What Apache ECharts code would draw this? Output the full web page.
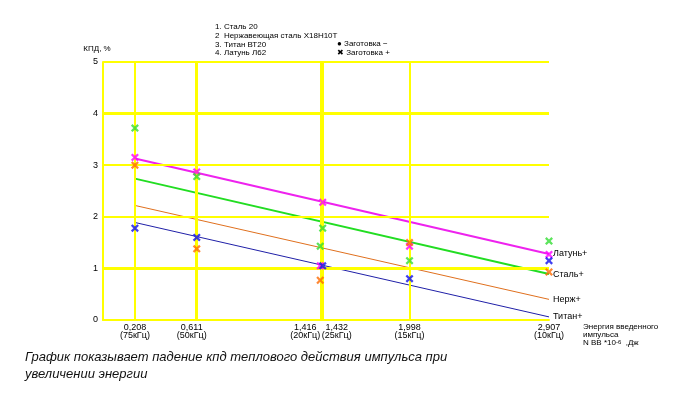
<!DOCTYPE html>
<html><head><meta charset="utf-8">
<script src="https://cdn.jsdelivr.net/npm/echarts@6/dist/echarts.min.js"></script>
<style>html,body{margin:0;padding:0;background:#fff}#c{width:688px;height:394px}</style>
</head><body><div id="c"></div>
<script>
// Energy values (x) and their frequency notes
const xValues = [0.208, 0.611, 1.416, 1.432, 1.998, 2.907];
const xTickText = ['0,208', '0,611', '1,416', '1,432', '1,998', '2,907'];
const xTickFreq = ['(75кГц)', '(50кГц)', '(20кГц)', '(25кГц)', '(15кГц)', '(10кГц)'];
const yTicks = [0, 1, 2, 3, 4, 5];

// Measured points (заготовка +)
const latunPts = [[0.208, 3.15], [0.611, 2.87], [1.416, 1.05], [1.432, 2.28], [1.998, 1.43], [2.907, 1.27]];
const stalPts  = [[0.208, 3.72], [0.611, 2.78], [1.416, 1.43], [1.432, 1.78], [1.998, 1.15], [2.907, 1.53]];
const nerzhPts = [[0.208, 3.00], [0.611, 1.38], [1.416, 0.77], [1.998, 1.50], [2.907, 0.93]];
const titanPts = [[0.208, 1.78], [0.611, 1.60], [1.432, 1.05], [1.998, 0.80], [2.907, 1.15]];

// Trend lines (start at 0.208, end at 2.907)
const latunLine = [[0.208, 3.13], [2.907, 1.28]];
const stalLine  = [[0.208, 2.74], [2.907, 0.89]];
const nerzhLine = [[0.208, 2.22], [2.907, 0.40]];
const titanLine = [[0.208, 1.89], [2.907, 0.06]];

const legendLines = ['1. Сталь 20', '2  Нержавеющая сталь Х18Н10Т', '3. Титан ВТ20', '4. Латунь Л62'];
const markerLegend = ['● Заготовка −', '✖ Заготовка +'];
const caption = ['График показывает падение кпд теплового действия импульса при', 'увеличении энергии'];

const YEL = '#ffff00';
const xGridWidth = [2, 3, 3, 3, 2, 2];
const yGridWidth = {1: 3, 2: 2, 3: 2, 4: 3, 5: 2};
const crossSym = 'path://M0,2 L2,0 L5,3 L8,0 L10,2 L7,5 L10,8 L8,10 L5,7 L2,10 L0,8 L3,5 Z';
const F = '"Liberation Sans", Arial, sans-serif';

const chart = echarts.init(document.getElementById('c'), null, {renderer: 'canvas'});

const gridMarks = [];
xValues.forEach((v, i) => gridMarks.push({xAxis: v, lineStyle: {color: YEL, width: xGridWidth[i], type: 'solid'}}));
yTicks.filter(v => v > 0).forEach(v => gridMarks.push({yAxis: v, lineStyle: {color: YEL, width: yGridWidth[v], type: 'solid'}}));

function lineSeries(name, data, color, width) {
  return {
    name, type: 'line', data, z: 3, showSymbol: false, symbol: 'none', silent: true,
    lineStyle: {color, width},
    endLabel: {show: true, formatter: name, color: '#000', fontSize: 9, fontFamily: F, distance: 4}
  };
}
function pointSeries(name, data, color) {
  return {
    name: name + ' pts', type: 'scatter', data, z: 5, symbol: crossSym, symbolSize: 8, silent: true,
    itemStyle: {color}
  };
}

const richX = {
  c: {fontSize: 9, fontFamily: F, color: '#000', lineHeight: 8},
  l: {fontSize: 9, fontFamily: F, color: '#000', lineHeight: 8, padding: [0, 10, 0, 0]},
  r: {fontSize: 9, fontFamily: F, color: '#000', lineHeight: 8, padding: [0, 30, 0, 0]},
  p: {fontSize: 9, fontFamily: F, color: '#000', lineHeight: 8, padding: [0, 0, 0, 28]}
};
const tickStyle = ['c', 'l', 'r', 'p', 'c', 'c'];

const graphics = [];
legendLines.forEach((t, i) => graphics.push({type: 'text', left: 215, top: 23 + i * 8.7,
  style: {text: t, font: '8px ' + F, fill: '#000'}}));
markerLegend.forEach((t, i) => graphics.push({type: 'text', left: 337, top: 40 + i * 8.7,
  style: {text: t, font: '8px ' + F, fill: '#000'}}));
graphics.push({type: 'text', left: 25, top: 349,
  style: {text: caption.join('\n'), font: 'italic 13px ' + F, fill: '#111', lineHeight: 17}});

chart.setOption({
  animation: false,
  backgroundColor: '#fff',
  grid: {left: 103, right: 139, top: 62, bottom: 74, containLabel: false},
  xAxis: {
    type: 'value', min: 0, max: 2.907,
    axisLine: {show: true, lineStyle: {color: YEL, width: 2}},
    axisTick: {show: false},
    splitLine: {show: false},
    axisLabel: {
      customValues: xValues, hideOverlap: false, margin: 4, showMinLabel: true, showMaxLabel: true,
      formatter: (v) => {
        const i = xValues.findIndex(x => Math.abs(x - v) < 1e-6);
        if (i < 0) return '';
        const s = tickStyle[i];
        return '{' + s + '|' + xTickText[i] + '}\n{' + s + '|' + xTickFreq[i] + '}';
      },
      rich: richX
    },
    name: '{a|Энергия введенного}\n{a|импульса}\n{a|N ВВ *10}{s|-6}{a|  ,Дж}',
    nameLocation: 'end', nameGap: 34,
    nameTextStyle: {align: 'left', verticalAlign: 'top', padding: [3, 0, 0, 0],
      rich: {a: {fontSize: 8, fontFamily: F, color: '#000', lineHeight: 8},
             s: {fontSize: 6, fontFamily: F, color: '#000', lineHeight: 8, verticalAlign: 'top', padding: [0, 0, 4, 0]}}}
  },
  yAxis: {
    type: 'value', min: 0, max: 5, interval: 1,
    axisLine: {show: true, lineStyle: {color: YEL, width: 2}},
    axisTick: {show: false},
    splitLine: {show: false},
    axisLabel: {color: '#000', fontSize: 9, fontFamily: F, margin: 5},
    name: 'КПД, %', nameGap: 9,
    nameTextStyle: {color: '#000', fontSize: 8, fontFamily: F, align: 'center', padding: [0, 12, 0, 0]}
  },
  graphic: graphics,
  series: [
    {type: 'line', data: [], z: 1, silent: true,
      markLine: {silent: true, symbol: 'none', label: {show: false}, animation: false, data: gridMarks}},
    lineSeries('Латунь+', latunLine, '#ee22ee', 2),
    lineSeries('Сталь+', stalLine, '#22dd22', 2),
    lineSeries('Нерж+', nerzhLine, '#e0701e', 1),
    lineSeries('Титан+', titanLine, '#2020a8', 1),
    pointSeries('Латунь', latunPts, '#ff00ff'),
    pointSeries('Сталь', stalPts, '#33dd33'),
    pointSeries('Нерж', nerzhPts, '#ff6a00'),
    pointSeries('Титан', titanPts, '#1010ee')
  ]
});
</script></body></html>
